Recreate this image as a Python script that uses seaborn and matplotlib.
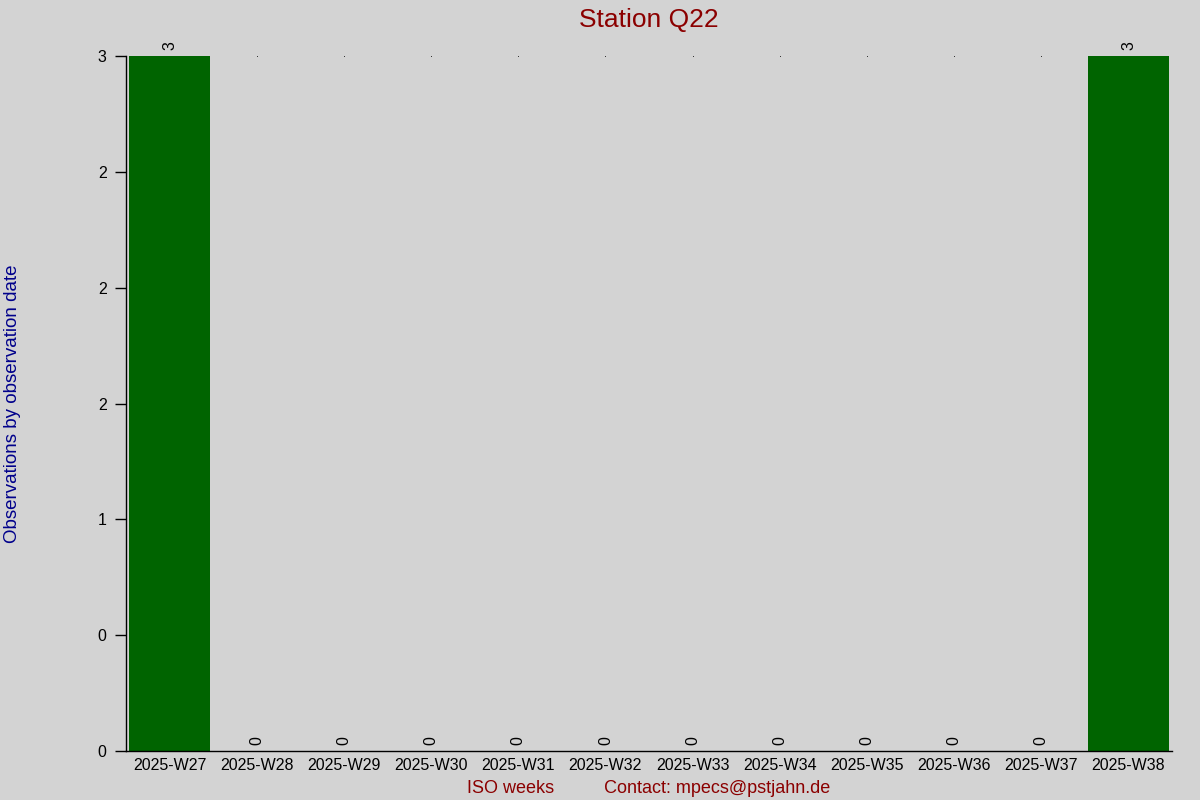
import matplotlib
matplotlib.use("Agg")
import matplotlib.pyplot as plt
import seaborn as sns
import pandas as pd
from matplotlib.ticker import FormatStrFormatter, MultipleLocator

weeks = ["2025-W27", "2025-W28", "2025-W29", "2025-W30", "2025-W31", "2025-W32",
         "2025-W33", "2025-W34", "2025-W35", "2025-W36", "2025-W37", "2025-W38"]
counts = [3, 0, 0, 0, 0, 0, 0, 0, 0, 0, 0, 3]

title = "Station Q22"
ylabel = "Observations by observation date"
xlabel = "ISO weeks" + " " * 10 + "Contact: mpecs@pstjahn.de"

sns.set_theme(style="white")
plt.rcParams["font.family"] = ["Liberation Sans", "DejaVu Sans"]

bg = "#d3d3d3"
fig = plt.figure(figsize=(12, 8), dpi=100, facecolor=bg)
ax = fig.add_axes([0.105, 0.06125, 0.8717, 0.86875])
ax.set_facecolor(bg)

df = pd.DataFrame({"week": weeks, "count": counts})
sns.barplot(data=df, x="week", y="count", color="#006400", saturation=1,
            width=0.92, ax=ax, edgecolor="none")

ax.set_xlim(-0.5, len(weeks) - 0.5)
ymax = max(counts)
ax.set_ylim(0, ymax)
ax.yaxis.set_major_locator(MultipleLocator(0.5))
ax.yaxis.set_major_formatter(FormatStrFormatter("%.0f"))

# tiny marks at the top for empty weeks
zx = [i for i, c in enumerate(counts) if c == 0]
ax.plot(zx, [ymax] * len(zx), linestyle="none", marker="s", markersize=0.5,
        markeredgewidth=0, color="black", clip_on=False)

for i, c in enumerate(counts):
    ax.annotate(str(c), (i, c), xytext=(0, 4.5), textcoords="offset points",
                ha="center", va="bottom", rotation=90, fontsize=11.5,
                color="black", annotation_clip=False)

for s in ["top", "right"]:
    ax.spines[s].set_visible(False)
for s in ["left", "bottom"]:
    ax.spines[s].set_color("black")
    ax.spines[s].set_linewidth(1)

ax.tick_params(axis="y", direction="out", length=8, width=1, color="black",
               labelsize=11.5, labelcolor="black", pad=6, left=True)
ax.tick_params(axis="x", length=0, labelsize=11.5, labelcolor="black", pad=5)

ax.set_title(title, color="#8b0000", fontsize=19, pad=21)
ax.set_xlabel(xlabel, color="#8b0000", fontsize=13, labelpad=5)
ax.set_ylabel(ylabel, color="#00008b", fontsize=13.5)
ax.yaxis.set_label_coords(-0.1, 0.5)

fig.savefig("out.png", dpi=100, facecolor=bg)
